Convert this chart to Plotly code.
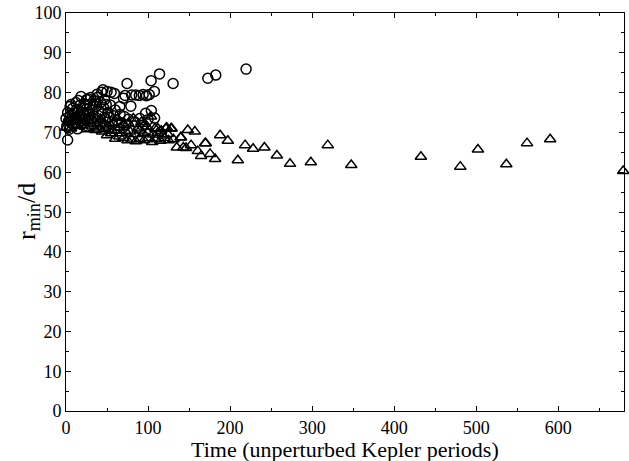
import plotly.graph_objects as go

# circles (open)
circle_x = [219.5, 172.8, 182.5, 114, 103.7, 130.5, 74.4, 107.7, 72, 80, 85, 89.4, 94, 98, 101.4,
            55, 59, 43.5, 18.3, 79, 65.5, 2, 45, 50, 38, 30, 25, 12, 5, 54, 60, 66, 71, 76, 84, 90, 70, 47,
            0, 1, 2, 3, 4, 5, 7, 8, 9, 10, 12, 13, 14, 16, 17, 19, 20, 22, 23, 25, 26, 28, 29, 31, 32, 34,
            35, 37, 39, 40, 42, 44, 46, 48, 51, 53, 56, 58, 62, 64, 68, 73, 18, 24, 36, 41, 6,
            97, 100, 104, 108, 93, 27, 33, 15, 21, 11, 39, 49]
circle_y = [85.9, 83.6, 84.4, 84.7, 83.0, 82.3, 82.3, 80.3, 79.3, 79.4, 79.4, 79.3, 79.5, 79.2, 79.5,
            80.1, 79.8, 80.1, 79.0, 76.6, 76.5, 68.1, 80.7, 80.3, 79.6, 78.8, 78.2, 77.5, 76.5, 76.9, 75.6,
            74.5, 74.0, 73.3, 72.6, 73.5, 78.6, 78.2,
            73.5, 71.5, 75.0, 72.8, 70.8, 74.2, 73.0, 76.0, 71.8, 74.8, 72.5, 75.8, 70.9, 73.8, 76.8, 72.0,
            75.0, 77.2, 73.2, 75.9, 71.6, 74.4, 77.0, 72.8, 75.6, 78.0, 74.0, 76.6, 73.0, 75.4, 77.5, 74.6,
            76.2, 73.4, 75.0, 73.8, 72.6, 74.2, 73.0, 71.8, 72.4, 71.9, 74.2, 76.8, 77.8, 72.0, 77.0,
            74.8, 73.2, 75.5, 73.6, 71.8, 78.4, 76.9, 78.0, 74.6, 73.4, 78.9, 77.0]

# triangles (open)
tri_x = [679, 590, 561.8, 536.6, 502, 480.5, 432.5, 347.6, 319, 298.4, 273, 257, 241.8, 228, 218.3,
         209.4, 197.2, 187.8, 181.7, 175.6, 170.3, 164.6, 160.6, 157, 148.4, 152.4, 139.8, 128, 121.6,
         130.9, 143, 146.3, 135, 111.8, 103.5, 82, 76, 70, 87.3, 98.4, 108.5, 122.8, 128.8, 140, 169.5,
         80, 85, 90, 95, 100, 105, 110, 115, 120, 125, 60, 65, 70, 75, 50, 55,
         0, 2, 4, 6, 8, 10, 12, 14, 16, 18, 20, 22, 24, 26, 28, 30, 32, 34, 36, 38, 40, 42, 44, 46, 48,
         52, 56, 58, 62, 66, 68, 72, 78, 84, 90, 94, 100, 106, 112, 118, 124, 92, 96, 116]
tri_y = [60.3, 68.3, 67.3, 62.0, 65.7, 61.4, 63.9, 61.8, 66.8, 62.5, 62.1, 64.2, 66.2, 65.9, 66.8,
         63.0, 67.9, 69.3, 63.3, 64.6, 67.3, 64.1, 65.3, 70.2, 70.6, 66.8, 68.7, 71.0, 71.0,
         68.3, 66.2, 66.1, 66.2, 71.0, 74.0, 73.5, 72.3, 71.9, 71.0, 71.4, 71.0, 71.2, 71.0, 68.8, 67.3,
         68.2, 67.8, 68.4, 68.0, 68.5, 67.6, 68.3, 67.9, 68.6, 68.0, 68.4, 69.0, 68.6, 68.0, 69.3, 69.8,
         71.2, 72.5, 73.6, 71.0, 72.8, 74.4, 71.6, 73.2, 75.0, 71.8, 73.6, 72.3, 74.8, 70.8, 72.9, 74.0,
         71.5, 73.0, 70.6, 72.2, 71.0, 73.4, 70.2, 72.0, 70.8,
         71.5, 70.4, 72.4, 70.5, 71.2, 69.8, 70.4, 70.2, 69.6, 70.5, 69.8, 70.0, 69.5, 69.9, 69.2, 69.6,
         72.6, 72.2, 70.4]

FONT = "Liberation Serif, Times New Roman, serif"

fig = go.Figure()
fig.add_trace(go.Scatter(
    x=circle_x, y=circle_y, mode="markers",
    marker=dict(symbol="circle-open", size=10, color="black", line=dict(width=1.5)),
    cliponaxis=False, showlegend=False,
))
fig.add_trace(go.Scatter(
    x=tri_x, y=tri_y, mode="markers",
    marker=dict(symbol="triangle-up-open", size=10, color="black", line=dict(width=1.5)),
    cliponaxis=False, showlegend=False,
))

axis_common = dict(
    showline=True, linecolor="black", linewidth=1, mirror="ticks",
    ticks="inside", ticklen=5, tickcolor="black", showgrid=False, zeroline=False,
    automargin=False,
    tickfont=dict(family=FONT, size=18, color="black"),
)

fig.update_xaxes(
    range=[0, 680], tickvals=[0, 100, 200, 300, 400, 500, 600],
    minor=dict(dtick=50, ticks="inside", ticklen=3, tickcolor="black", showgrid=False),
    **axis_common,
)
fig.update_yaxes(
    range=[0, 100], dtick=10,
    minor=dict(dtick=5, ticks="inside", ticklen=3, tickcolor="black", showgrid=False),
    **axis_common,
)

# axis titles as annotations so they can sit as close as in the original
fig.add_annotation(text="Time (unperturbed Kepler periods)", xref="paper", yref="paper",
                   x=0.5, y=0, yshift=-38, yanchor="middle", showarrow=False,
                   font=dict(family=FONT, size=22, color="black"))
fig.add_annotation(text="r<sub>min</sub>/d", xref="paper", yref="paper",
                   x=0, y=0.5, xshift=-38, xanchor="center", textangle=-90, showarrow=False,
                   font=dict(family=FONT, size=26, color="black"))

fig.update_layout(
    width=629, height=461,
    margin=dict(l=66, r=5, t=13, b=50),
    plot_bgcolor="white", paper_bgcolor="white",
    font=dict(family=FONT, color="black"),
)

# page has a default 8px body margin; drop it so the figure fills the window
fig.write_html("out.html", config={"displayModeBar": False},
               post_script="document.body.style.margin='0px';")
